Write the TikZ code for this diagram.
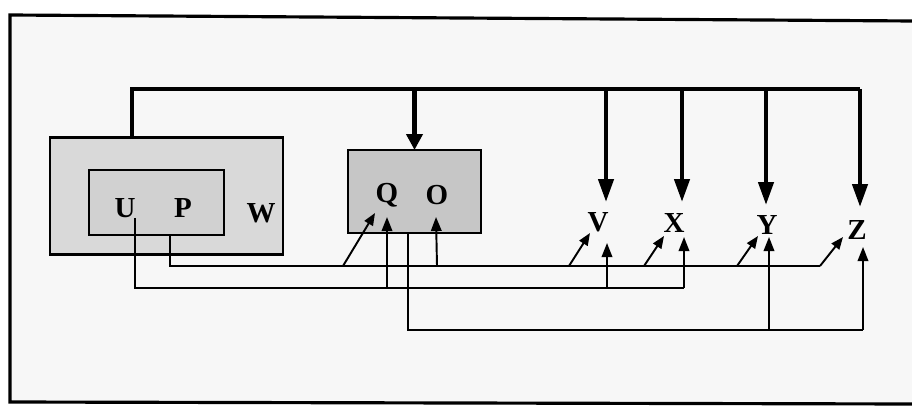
\documentclass[tikz,border=0pt]{standalone}
\usepackage{fontspec}
\setmainfont{Liberation Serif}
\usetikzlibrary{arrows.meta,calc}
\begin{document}
\begin{tikzpicture}[x=0.02cm,y=-0.02cm,
  lbl/.style={font=\fontsize{16.5}{18}\selectfont\bfseries, inner sep=0pt},
  boxw/.style={draw, line width=1.3pt, fill=gray!30, inner sep=0pt, outer sep=0pt},
  boxq/.style={draw, line width=1.3pt, fill=gray!45, inner sep=0pt, outer sep=0pt},
  bus/.style={line width=2.2pt},
  busarrow/.style={line width=2.4pt, -{Triangle[length=13pt,width=8.5pt]}},
  qarrow/.style={line width=2.4pt, -{Triangle[length=9pt,width=9pt]}},
  wire/.style={line width=1.1pt},
  sarrow/.style={line width=1.1pt, -{Triangle[length=8pt,width=6pt]}},
  darrow/.style={line width=1.1pt, -{Triangle[length=7pt,width=5.5pt]}}]
\useasboundingbox (0,0) rectangle (912,418);
% frame
\fill[gray!6] (10,15) -- (912,21) -- (912,404) -- (10,402) -- cycle;
\draw[line width=1.8pt] (912,21) -- (10,15) -- (10,402) -- (912,404);
% boxes
\node[boxw, minimum width=4.66cm, minimum height=2.34cm] (Wb) at (166.5,196) {};
\node[boxw, fill=gray!36, minimum width=2.7cm, minimum height=1.3cm] (UPb) at (156.5,202.5) {};
\node[boxq, minimum width=2.66cm, minimum height=1.66cm] (Qb) at (414.5,191.5) {};
% labels
\node[lbl] (U) at (125,208) {U};
\node[lbl] (P) at (183,208) {P};
\node[lbl] (W) at (261,213) {W};
\node[lbl] (Q) at (387,195) {Q};
\node[lbl] (O) at (437,195) {O};
\node[lbl] (V) at (598,222) {V};
\node[lbl] (X) at (674,223) {X};
\node[lbl] (Y) at (767,225) {Y};
\node[lbl] (Z) at (857,230) {Z};
% coordinates
\coordinate (b0) at (132,89);
\coordinate (Vt) at (606,202);
\coordinate (Xt) at (682,202);
\coordinate (Yt) at (766,205);
\coordinate (Zt) at (860,207);
\coordinate (pl) at (170,266);
\coordinate (ul) at (135,288);
\coordinate (ql) at (408,330);
% bus
\draw[bus] (Wb.north -| b0) -- (b0) -- (b0 -| Zt);
\draw[busarrow] (b0 -| Zt) -- (Zt);
\draw[qarrow] (b0 -| Qb.north) -- (Qb.north);
\draw[busarrow] (b0 -| Vt) -- (Vt);
\draw[busarrow] (b0 -| Xt) -- (Xt);
\draw[busarrow] (b0 -| Yt) -- (Yt);
% P line
\draw[wire] (UPb.south -| pl) -- (pl) -- (820,266);
\draw[darrow] (820,266) -- ($(Z)+(-14,7)$);
\draw[darrow] (343,266) -- ($(Q)+(-12,18)$);
\draw[sarrow] (O.center |- pl) -- ($(O)+(-1,22)$);
\draw[darrow] (569,266) -- ($(V)+(-8,11)$);
\draw[darrow] (644,266) -- ($(X)+(-10,13)$);
\draw[darrow] (737,266) -- ($(Y)+(-9,11)$);
% U line
\draw[wire] (U.south -| ul) -- (ul) -- (684,288);
\draw[sarrow] (684,288) -- ($(X)+(10,14)$);
\draw[sarrow] (387,288) -- ($(Q)+(0,22)$);
\draw[sarrow] (607,288) -- ($(V)+(9,21)$);
% Q line
\draw[wire] (Qb.south -| ql) -- (ql) -- (863,330);
\draw[sarrow] (863,330) -- ($(Z)+(6,17)$);
\draw[sarrow] (769,330) -- ($(Y)+(2,12)$);
\end{tikzpicture}
\end{document}
